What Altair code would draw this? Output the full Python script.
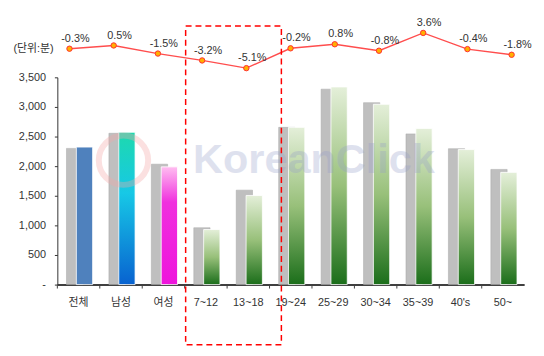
import altair as alt
import pandas as pd

categories = ["전체", "남성", "여성", "7~12", "13~18", "19~24", "25~29", "30~34", "35~39", "40's", "50~"]
prev_values = [2300, 2555, 2033, 960, 1595, 2655, 3300, 3072, 2545, 2295, 1945]
curr_values = [2322, 2572, 1988, 930, 1505, 2655, 3338, 3045, 2638, 2280, 1895]
change_pct = [-0.3, 0.5, -1.5, -3.2, -5.1, -0.2, 0.8, -0.8, 3.6, -0.4, -1.8]
y_ticks = [0, 500, 1000, 1500, 2000, 2500, 3000, 3500]

FONT = "Liberation Sans, Noto Sans CJK KR"

df = pd.DataFrame({"cat": categories, "prev": prev_values, "curr": curr_values, "chg": change_pct})
df["label"] = [f"{v:.1f}%" for v in change_pct]
one = pd.DataFrame({"a": [0]})

xaxis = alt.Axis(title=None, ticks=False, labelAngle=0, labelFont=FONT, labelFontSize=11,
                 labelColor="#333333", labelPadding=12, domainColor="#404040", domainWidth=2)
yaxis = alt.Axis(values=y_ticks, grid=False, tickSize=3, tickColor="#333333",
                 domainColor="#333333", labelFont=FONT, labelFontSize=11, labelColor="#333333",
                 labelPadding=9,
                 labelExpr="datum.value == 0 ? '-' : format(datum.value, ',')",
                 title="(단위:분)", titleAngle=0, titleX=-45, titleY=-29, titleAlign="left",
                 titleBaseline="middle", titleFontWeight="normal", titleFontSize=11,
                 titleColor="#333333", titleFont=FONT)
xscale = alt.Scale(domain=categories, paddingInner=0, paddingOuter=0)
yscale = alt.Scale(domain=[0, 3500], nice=False)


def xband():
    return alt.X("cat:N", sort=categories, scale=xscale, axis=xaxis)


def ybar(field):
    return alt.Y(f"{field}:Q", scale=yscale, axis=yaxis)


base = alt.Chart(df)

grey = base.mark_bar(width=16.5, xOffset=-4, color="#BFBFBF", stroke="#A8A8A8", strokeWidth=0.5).encode(
    x=xband(), y=ybar("prev"))


def grad(stops):
    return alt.Gradient(gradient="linear", x1=0, x2=0, y1=0, y2=1,
                        stops=[alt.GradientStop(offset=o, color=c) for o, c in stops])


def colored(cats, fill):
    return base.transform_filter(alt.FieldOneOfPredicate(field="cat", oneOf=cats)).mark_bar(
        width=16.5, xOffset=6, fill=fill, stroke="white", strokeWidth=0.8
    ).encode(x=xband(), y=ybar("curr"))


b_total = colored(["전체"], "#4F81BD")
b_male = colored(["남성"], grad([(0, "#1DD9AE"), (0.4, "#17C8E6"), (1, "#0862D0")]))
b_female = colored(["여성"], grad([(0, "#FFBDF0"), (0.3, "#F030DE"), (1, "#EE14DC")]))
b_age = colored(categories[3:], grad([(0, "#E4EFD9"), (0.5, "#98C07A"), (1, "#1B6E1A")]))

xticks = base.mark_rule(xOffset=-21.5, color="#404040").encode(
    x=xband(), y=alt.value(210), y2=alt.value(214))

bars = alt.layer(grey, b_total, b_male, b_female, b_age, xticks)

xline = alt.X("cat:N", sort=categories,
              scale=alt.Scale(type="point", domain=categories, range=[12.3, 460.3], padding=0), axis=None)
yline = alt.Y("chg:Q", scale=alt.Scale(domain=[-6, 4], range=[-5.64, -46.64], nice=False, zero=False),
              axis=None)

line = base.mark_line(color="#FF4D4D", strokeWidth=1.4).encode(x=xline, y=yline)
pts = base.mark_point(shape="circle", filled=True, size=30, fill="#FFB000", stroke="#FF3030",
                      strokeWidth=1, opacity=1).encode(x=xline, y=yline)
labels = base.mark_text(
    dy=-10, dx=6, fontSize=11, font=FONT, color="#333333", baseline="middle"
).encode(x=xline, y=yline, text="label:N")

lines = alt.layer(line, pts, labels)

watermark = alt.Chart(one).mark_text(text="KoreanClick", font="Liberation Sans", fontSize=42,
                                     fontWeight="bold", color="#959EC9", opacity=0.3,
                                     align="center", baseline="alphabetic").encode(
    x=alt.value(260), y=alt.value(97))
logo = alt.Chart(one).mark_point(shape="circle", size=2500, filled=False, stroke="#F4A8A8",
                                 strokeWidth=6, opacity=0.35).encode(x=alt.value(67), y=alt.value(84))

box = alt.Chart(one).mark_rect(fill=None, stroke="#FF0000", strokeWidth=1.5, strokeDash=[6, 4]).encode(
    x=alt.value(130), x2=alt.value(227), y=alt.value(-52), y2=alt.value(271))

chart = alt.layer(bars, logo, watermark, lines, box).resolve_scale(
    x="independent", y="independent"
).properties(
    width=473, height=210,
    background="white",
    autosize=alt.AutoSizeParams(type="none"),
    padding={"left": 50, "top": 68, "right": 12, "bottom": 62},
).configure_view(stroke=None)

chart.save("out.html", embed_options={"renderer": "svg", "actions": False})
